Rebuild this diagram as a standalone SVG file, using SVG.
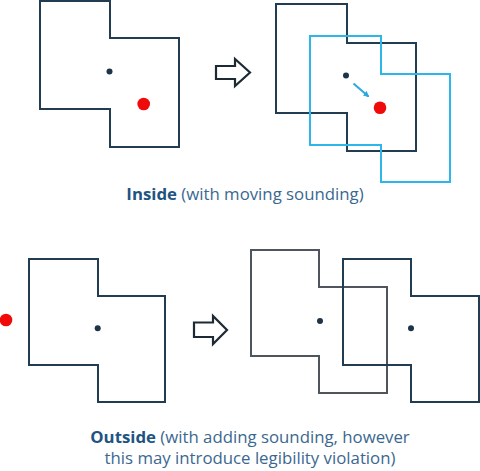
<svg xmlns="http://www.w3.org/2000/svg" width="480" height="471" viewBox="0 0 480 471">
<defs>
<style>
.shape{fill:none;stroke:#223c52;stroke-width:2;stroke-linejoin:miter}
.gray{stroke:#4e555c}
.blue{stroke:#2db6ea}
.dot{fill:#1d3347}
.red{fill:#f00a0a}
.big{fill:#fff;stroke:#1e2a33;stroke-width:2.2;stroke-linejoin:miter}
.cap{font-family:"Open Sans","Liberation Sans",sans-serif;font-size:16.8px;fill:#3a6890}
.b{font-weight:bold;fill:#1f5382}
</style>
<marker id="ah" markerWidth="6" markerHeight="6" refX="5" refY="3" orient="auto" markerUnits="userSpaceOnUse">
<path d="M0,0 L6,3 L0,6 Z" fill="#2aa8e0"/>
</marker>
</defs>
<rect width="480" height="471" fill="#fff"/>

<g id="inside-before">
<path class="shape" d="M40,1 H110 V38 H179 V147 H110 V109 H40 Z"/>
<circle class="dot" cx="109.5" cy="71.5" r="3"/>
<circle class="red" cx="143.7" cy="104" r="6.3"/>
</g>

<g id="inside-after">
<path class="shape" d="M276,4 H347 V43 H416 V151 H347 V113 H276 Z"/>
<path class="shape blue" d="M310,36 H381 V74 H450 V182 H381 V145 H310 Z"/>
<circle class="dot" cx="346" cy="75.5" r="3"/>
<circle class="red" cx="380" cy="107.7" r="6.3"/>
</g>

<g id="outside-before">
<path class="shape" d="M29,259 H98 V296 H165 V402 H98 V365 H29 Z"/>
<circle class="dot" cx="97.7" cy="328.3" r="3"/>
<circle class="red" cx="6" cy="320" r="6.3"/>
</g>

<g id="outside-after">
<path class="shape gray" d="M251,250 H319 V287 H387 V393 H319 V356 H251 Z"/>
<circle class="dot" cx="320" cy="321" r="3"/>
<path class="shape" d="M343,259 H411 V296 H479 V402 H411 V365 H343 Z"/>
<circle class="dot" cx="411" cy="328.3" r="3"/>
</g>

<g id="connectors">
<path class="big" d="M216,66 H235 V59 L250,72.5 L235,86 V79 H216 Z"/>
<path class="big" d="M194,322.5 H213 V316 L227,330 L213,344 V337 H194 Z"/>
<line x1="353.5" y1="83.5" x2="368.5" y2="96.5" stroke="#2aa8e0" stroke-width="2" marker-end="url(#ah)"/>
</g>

<g id="captions">
<text class="cap" x="245" y="200" text-anchor="middle"><tspan class="b">Inside</tspan> (with moving sounding)</text>
<text class="cap" x="250" y="443" text-anchor="middle"><tspan class="b">Outside</tspan> (with adding sounding, however</text>
<text class="cap" x="250" y="464" text-anchor="middle">this may introduce legibility  violation)</text>
</g>
</svg>
